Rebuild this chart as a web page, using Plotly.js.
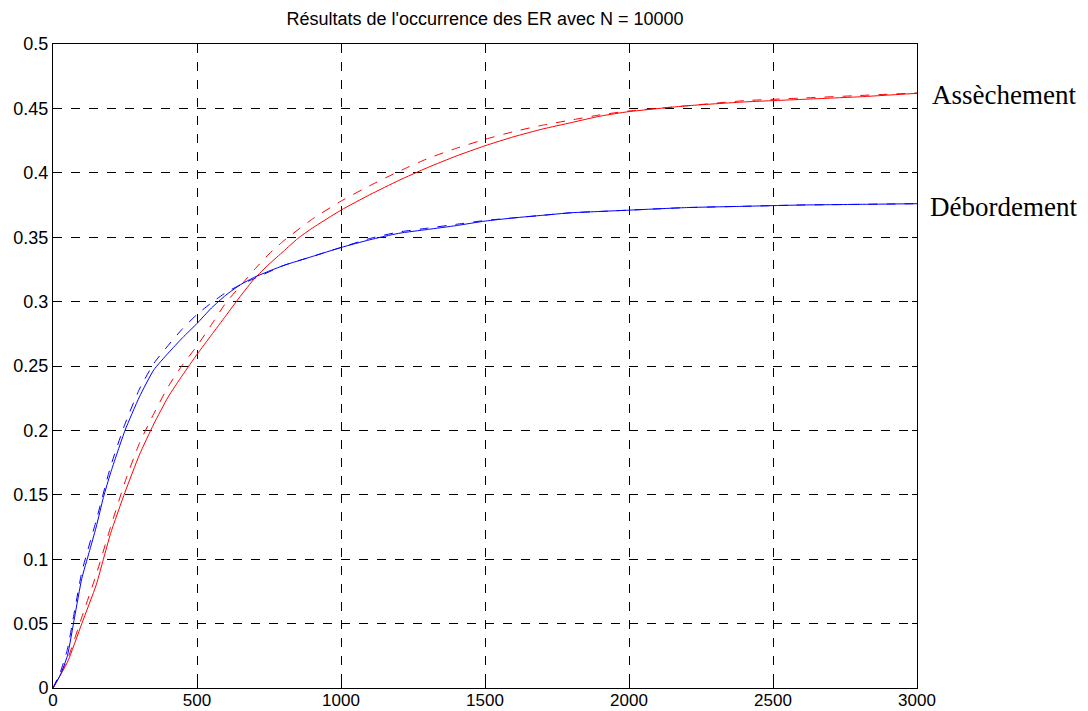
<!DOCTYPE html>
<html>
<head>
<meta charset="utf-8">
<script src="https://cdn.plot.ly/plotly-3.0.1.min.js"></script>
<style>html,body{margin:0;padding:0;background:#fff;}#chart{width:1088px;height:711px;}</style>
</head>
<body>
<div id="chart"></div>
<script>
// Débordement (blue)
const xBlueSolid = [0,25,50,75,100,125,150,175,200,250,300,350,400,450,500,550,600,650,700,800,900,1000,1100,1200,1300,1400,1500,1600,1700,1800,1900,2000,2200,2400,2600,2800,3000];
const yBlueSolid = [0,0.01,0.025,0.055,0.085,0.105,0.125,0.148,0.167,0.2,0.226,0.247,0.26,0.272,0.283,0.295,0.305,0.313,0.319,0.328,0.335,0.342,0.348,0.353,0.356,0.359,0.3625,0.365,0.367,0.369,0.37,0.371,0.373,0.374,0.375,0.3755,0.376];
const xBlueDash = [0,25,50,75,100,150,200,250,300,350,400,450,500,550,600,650,700,800,900,1000,1100,1200,1300,1400,1500,1600,1700,1800,1900,2000,2200,2400,2600,2800,3000];
const yBlueDash = [0,0.012,0.03,0.06,0.09,0.13,0.172,0.205,0.232,0.252,0.266,0.279,0.29,0.299,0.307,0.313,0.318,0.328,0.335,0.342,0.349,0.354,0.357,0.36,0.363,0.365,0.367,0.369,0.37,0.371,0.373,0.374,0.375,0.3755,0.376];
// Assèchement (red)
const xRedSolid = [0,50,100,150,175,200,250,300,350,400,450,500,550,600,650,700,750,800,850,900,1000,1100,1200,1300,1400,1500,1600,1700,1800,1900,2000,2200,2400,2600,2800,3000];
const yRedSolid = [0,0.02,0.05,0.08,0.1,0.12,0.152,0.181,0.205,0.226,0.243,0.259,0.274,0.289,0.304,0.318,0.329,0.339,0.349,0.357,0.371,0.383,0.394,0.404,0.413,0.421,0.428,0.434,0.439,0.444,0.4475,0.452,0.455,0.457,0.459,0.4617];
const xRedDash = [0,50,100,150,200,250,300,350,400,450,500,550,600,650,700,750,800,900,1000,1100,1200,1300,1400,1500,1600,1700,1800,1900,2000,2200,2400,2600,2800,3000];
const yRedDash = [0,0.022,0.055,0.088,0.125,0.16,0.19,0.213,0.234,0.251,0.2655,0.282,0.299,0.312,0.325,0.337,0.347,0.364,0.378,0.39,0.401,0.411,0.419,0.426,0.432,0.437,0.441,0.445,0.448,0.452,0.456,0.458,0.46,0.462];

const xTicks = [0,500,1000,1500,2000,2500,3000];
const yTicks = [0,0.05,0.1,0.15,0.2,0.25,0.3,0.35,0.4,0.45,0.5];
const yTickText = ['0','0.05','0.1','0.15','0.2','0.25','0.3','0.35','0.4','0.45','0.5'];
const titleText = "Résultats de l'occurrence des ER avec N = 10000";
const labelRed = 'Assèchement';
const labelBlue = 'Débordement';

const lineShape = {shape:'spline', smoothing:0.5, width:1};
const traces = [
  {x:xRedDash, y:yRedDash, mode:'lines', line:Object.assign({color:'#ff0000', dash:'dash'}, lineShape), hoverinfo:'skip'},
  {x:xRedSolid, y:yRedSolid, mode:'lines', line:Object.assign({color:'#ff0000'}, lineShape), hoverinfo:'skip'},
  {x:xBlueDash, y:yBlueDash, mode:'lines', line:Object.assign({color:'#0000ff', dash:'dash'}, lineShape), hoverinfo:'skip'},
  {x:xBlueSolid, y:yBlueSolid, mode:'lines', line:Object.assign({color:'#0000ff'}, lineShape), hoverinfo:'skip'}
];

const axisCommon = {
  showline:true, mirror:'allticks', linecolor:'#000', linewidth:1,
  ticks:'inside', ticklen:5, tickcolor:'#000',
  showgrid:true, gridcolor:'#000', griddash:'dash', gridwidth:1,
  zeroline:false, tickfont:{family:'Liberation Sans, Arial, sans-serif', size:18, color:'#000'}
};

const layout = {
  width:1088, height:711,
  margin:{l:53, r:171, t:44, b:23},
  paper_bgcolor:'#fff', plot_bgcolor:'#fff',
  showlegend:false,
  title:{text:titleText, x:0.5, xref:'paper', y:1-19/711, yref:'container', yanchor:'middle',
         font:{family:'Liberation Sans, Arial, sans-serif', size:18, color:'#000'}},
  xaxis:Object.assign({}, axisCommon, {range:[0,3000], tickvals:xTicks, ticktext:xTicks.map(String),
         ticklabelstandoff:-3, tickfont:{family:'Liberation Sans, Arial, sans-serif', size:17, color:'#000'}}),
  yaxis:Object.assign({}, axisCommon, {range:[0,0.5], tickvals:yTicks, ticktext:yTickText}),
  annotations:[
    {text:labelRed, xref:'paper', yref:'paper', x:(1004-53)/864, y:(688-95)/644, showarrow:false,
     xanchor:'center', yanchor:'middle', font:{family:'Liberation Serif, Times New Roman, serif', size:27, color:'#000'}},
    {text:labelBlue, xref:'paper', yref:'paper', x:(1003-53)/864, y:(688-207)/644, showarrow:false,
     xanchor:'center', yanchor:'middle', font:{family:'Liberation Serif, Times New Roman, serif', size:27, color:'#000'}}
  ]
};

Plotly.newPlot('chart', traces, layout, {staticPlot:true, displayModeBar:false});
</script>
</body>
</html>
